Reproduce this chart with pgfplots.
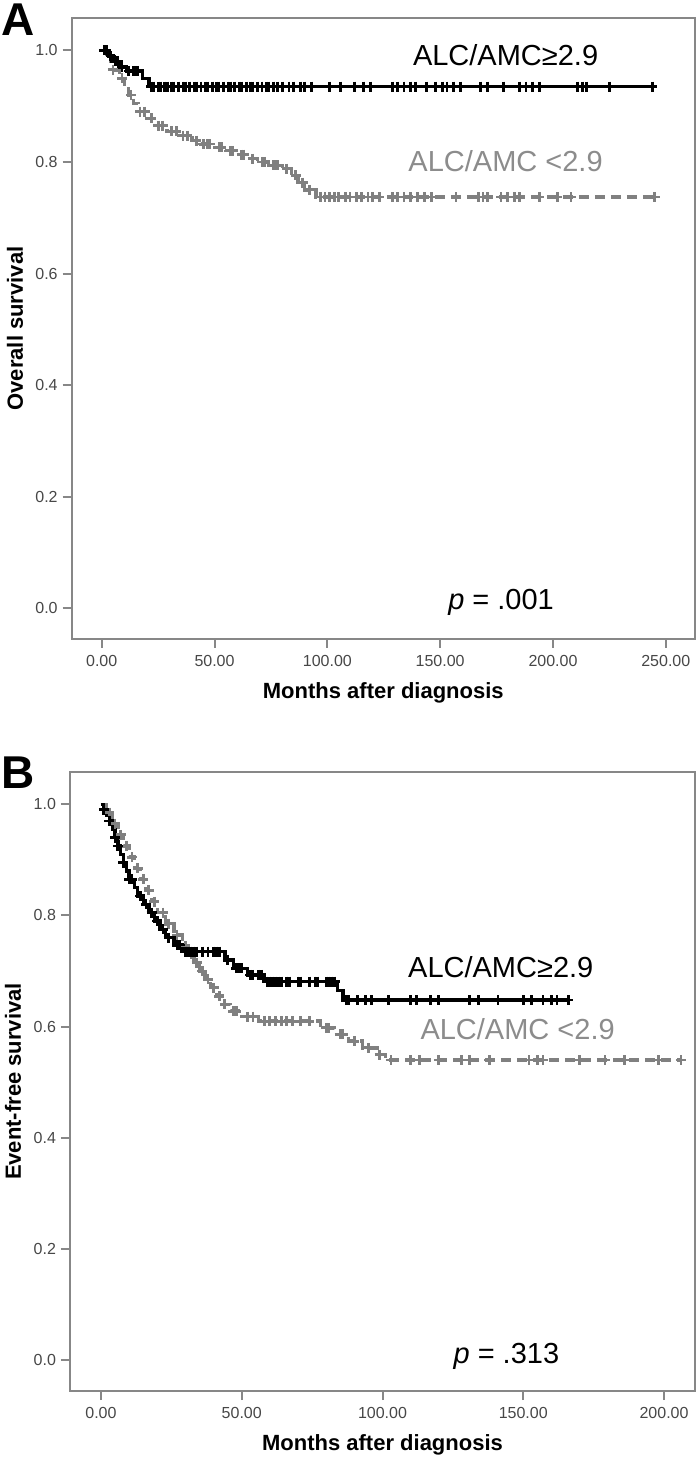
\documentclass[border=0pt]{standalone}
\usepackage{fontspec}
\setmainfont{Liberation Sans}
\usepackage{pgfplots}
\pgfplotsset{compat=1.18}
\definecolor{axgray}{RGB}{135,135,135}
\definecolor{kmgray}{RGB}{128,128,128}
\definecolor{lblgray}{RGB}{140,140,140}

\pgfplotsset{kmstyle/.style={
  scale only axis, width=311.6pt, height=310.5pt,
  axis line style={axgray, line width=1pt},
  tick style={axgray, line width=1pt},
  tick align=outside, major tick length=4.5pt,
  xtick pos=bottom, ytick pos=left,
  ymin=-0.055, ymax=1.058,
  ytick={0,0.2,0.4,0.6,0.8,1.0},
  /pgf/number format/assume math mode=true,
  yticklabel={\pgfmathprintnumber[fixed,fixed zerofill,precision=1]{\tick}},
  xticklabel={\pgfmathprintnumber[fixed,fixed zerofill,precision=2]{\tick}},
  scaled ticks=false,
  tick label style={font=\fontsize{8}{9}\selectfont, text=black!72},
  yticklabel style={xshift=1pt},
  xlabel style={font=\bfseries\fontsize{11}{12}\selectfont, at={(axis description cs:0.5,-0.087)}, anchor=center},
  ylabel style={font=\bfseries\fontsize{11}{12}\selectfont, at={(axis description cs:-0.091,0.5)}, anchor=center},
  clip=false,
}}
\tikzset{
  blk/.style={black, line width=1.7pt},
  gry/.style={kmgray, line width=1.7pt, dash pattern=on 5pt off 3pt},
  cblk/.style={only marks, mark=+, mark size=2.5pt, mark options={black, line width=1.4pt, solid}},
  cgry/.style={only marks, mark=+, mark size=2.5pt, mark options={kmgray, line width=1.4pt, solid}},
}

\begin{document}
\begin{tikzpicture}
\useasboundingbox (0,0) rectangle (350pt,730pt);
\node[anchor=north west, inner sep=0pt, font=\bfseries\fontsize{23}{23}\selectfont] at (0.5pt,728.5pt) {A};
\node[anchor=north west, inner sep=0pt, font=\bfseries\fontsize{23}{23}\selectfont] at (0.5pt,352pt) {B};

% ---------------- Panel A ----------------
\begin{axis}[kmstyle, at={(35.85pt,410.5pt)}, anchor=south west,
  xmin=-13.3, xmax=262.9, xtick={0,50,100,150,200,250},
  xlabel={Months after diagnosis}, ylabel={Overall survival}]
% gray group (ALC/AMC < 2.9)
\addplot[gry, const plot] coordinates {
(0,1.0)(2,0.99)(4,0.98)(6,0.965)(8,0.95)(10,0.935)(12,0.92)(14,0.905)(16,0.89)
(20,0.878)(24,0.865)(29,0.855)(34,0.847)(40,0.838)(44,0.832)(50,0.826)(55,0.82)
(60,0.813)(65,0.806)(69,0.8)(74,0.794)(80,0.788)(84,0.776)(87,0.763)(90,0.75)
(95,0.737)(245,0.737)};
\addplot[cgry] coordinates {
(5,0.965)(9,0.95)(13,0.92)(17,0.89)(19,0.89)(22,0.878)(25,0.865)(27,0.865)
(31,0.855)(33,0.855)(36,0.847)(38,0.847)(42,0.838)(45,0.832)(47,0.832)(48,0.832)
(52,0.826)(53,0.826)(57,0.82)(58,0.82)(62,0.813)(63,0.813)(67,0.806)(71,0.8)(72,0.8)
(76,0.794)(77,0.794)(78,0.794)(82,0.788)(86,0.776)(89,0.763)(92,0.75)
(97,0.737)(99,0.737)(101,0.737)(103,0.737)(105,0.737)(108,0.737)(110,0.737)(113,0.737)
(115,0.737)(118,0.737)(120,0.737)(123,0.737)(129,0.737)(131,0.737)(134,0.737)(137,0.737)
(140,0.737)(143,0.737)(146,0.737)(157,0.737)(167,0.737)(169,0.737)(171,0.737)(177,0.737)
(180,0.737)(183,0.737)(185,0.737)(194,0.737)(202,0.737)(208,0.737)(245,0.737)};
% black group (ALC/AMC >= 2.9)
\addplot[blk, const plot] coordinates {
(0,1.0)(3,0.99)(5,0.98)(8,0.97)(11,0.963)(18,0.95)(21,0.935)(244,0.935)};
\addplot[cblk] coordinates {
(1,1.0)(2,1.0)(4,0.99)(6,0.98)(7,0.98)(9,0.97)(12,0.963)(14,0.963)(15,0.963)(16,0.963)
(22,0.935)(23,0.935)(25,0.935)(26,0.935)(28,0.935)(29,0.935)(31,0.935)(32,0.935)(34,0.935)
(36,0.935)(37,0.935)(39,0.935)(41,0.935)(42,0.935)(44,0.935)(46,0.935)(47,0.935)(49,0.935)
(51,0.935)(52,0.935)(54,0.935)(56,0.935)(57,0.935)(59,0.935)(61,0.935)(62,0.935)(64,0.935)
(66,0.935)(67,0.935)(69,0.935)(71,0.935)(73,0.935)(74,0.935)(76,0.935)(78,0.935)(80,0.935)
(83,0.935)(85,0.935)(88,0.935)(90,0.935)(93,0.935)(101,0.935)(106,0.935)(112,0.935)
(116,0.935)(119,0.935)(129,0.935)(131,0.935)(134,0.935)(137,0.935)(139,0.935)(144,0.935)
(148,0.935)(151,0.935)(153,0.935)(156,0.935)(159,0.935)(168,0.935)(171,0.935)(178,0.935)
(185,0.935)(188,0.935)(191,0.935)(194,0.935)(211,0.935)(213,0.935)(215,0.935)(225,0.935)
(244,0.935)};
\node[font=\fontsize{14.5}{16}\selectfont, text=black] at (axis cs:179,0.991) {ALC/AMC≥2.9};
\node[font=\fontsize{14.5}{16}\selectfont, text=lblgray] at (axis cs:179,0.802) {ALC/AMC <2.9};
\node[font=\fontsize{14.5}{16}\selectfont] at (axis cs:177,0.011) {\textit{p} = .001};
\end{axis}

% ---------------- Panel B ----------------
\begin{axis}[kmstyle, at={(35pt,34.5pt)}, anchor=south west, height=309.5pt, width=312.5pt,
  xmin=-11, xmax=211, xtick={0,50,100,150,200},
  xlabel={Months after diagnosis}, ylabel={Event-free survival}]
% gray group
\addplot[gry, const plot] coordinates {
(0,1.0)(2,0.985)(4,0.965)(6,0.945)(8,0.925)(10,0.905)(12,0.885)(14,0.865)(16,0.845)
(18,0.825)(20,0.805)(23,0.785)(26,0.765)(29,0.745)(31,0.73)(33,0.715)(35,0.70)(37,0.685)
(39,0.67)(41,0.655)(43,0.64)(46,0.628)(50,0.618)(56,0.61)(78,0.598)(83,0.586)(88,0.574)
(93,0.562)(98,0.55)(101,0.54)(206,0.54)};
\addplot[cgry] coordinates {
(3,0.985)(5,0.965)(7,0.945)(9,0.925)(11,0.905)(13,0.885)(15,0.865)(17,0.845)(19,0.825)
(22,0.805)(24,0.785)(27,0.765)(30,0.745)(32,0.73)(34,0.715)(36,0.70)(38,0.685)(40,0.67)
(42,0.655)(44,0.64)(47,0.628)(48,0.628)(52,0.618)(54,0.618)(58,0.61)(60,0.61)(62,0.61)
(64,0.61)(66,0.61)(68,0.61)(71,0.61)(74,0.61)(80,0.598)(81,0.598)(85,0.586)(86,0.586)
(90,0.574)(95,0.562)(99,0.55)(103,0.54)(110,0.54)(113,0.54)(120,0.54)(128,0.54)(131,0.54)
(138,0.54)(152,0.54)(155,0.54)(157,0.54)(170,0.54)(179,0.54)(186,0.54)(198,0.54)(206,0.54)};
% black group
\addplot[blk, const plot] coordinates {
(0,1.0)(1,0.99)(2,0.98)(3,0.97)(4,0.955)(5,0.94)(6,0.925)(7,0.91)(8,0.895)(9,0.88)
(10,0.865)(12,0.85)(13,0.835)(15,0.82)(17,0.805)(19,0.79)(21,0.775)(23,0.76)(26,0.747)
(29,0.735)(44,0.72)(47,0.705)(52,0.693)(58,0.681)(84,0.665)(86,0.648)(166,0.648)};
\addplot[cblk] coordinates {
(1,0.99)(3,0.97)(5,0.94)(6,0.925)(8,0.895)(10,0.865)(11,0.865)(14,0.835)(16,0.82)
(18,0.805)(20,0.79)(22,0.775)(24,0.76)(27,0.747)(28,0.747)(30,0.735)(31,0.735)(32,0.735)
(33,0.735)(34,0.735)(36,0.735)(38,0.735)(40,0.735)(41,0.735)(42,0.735)(45,0.72)(48,0.705)
(49,0.705)(50,0.705)(53,0.693)(54,0.693)(56,0.693)(57,0.693)(59,0.681)(60,0.681)(61,0.681)
(62,0.681)(63,0.681)(64,0.681)(66,0.681)(67,0.681)(70,0.681)(71,0.681)(74,0.681)(76,0.681)
(77,0.681)(80,0.681)(81,0.681)(82,0.681)(83,0.681)(87,0.648)(88,0.648)(91,0.648)(94,0.648)
(96,0.648)(102,0.648)(110,0.648)(112,0.648)(117,0.648)(120,0.648)(131,0.648)(134,0.648)
(141,0.648)(150,0.648)(153,0.648)(157,0.648)(160,0.648)(162,0.648)(166,0.648)};
\node[font=\fontsize{14.5}{16}\selectfont, text=black] at (axis cs:142,0.708) {ALC/AMC≥2.9};
\node[font=\fontsize{14.5}{16}\selectfont, text=lblgray] at (axis cs:148,0.595) {ALC/AMC <2.9};
\node[font=\fontsize{14.5}{16}\selectfont] at (axis cs:144,0.008) {\textit{p} = .313};
\end{axis}
\end{tikzpicture}
\end{document}
